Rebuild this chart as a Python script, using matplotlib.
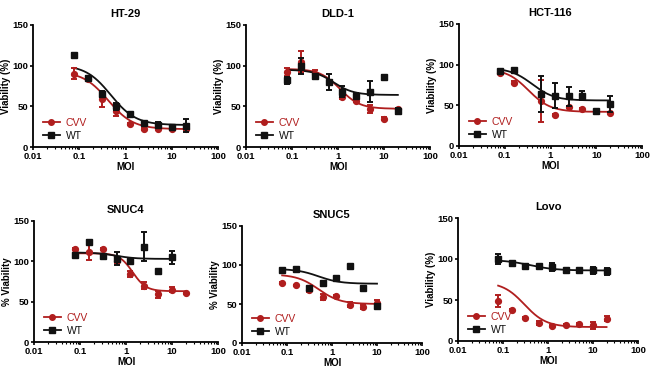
import numpy as np
import matplotlib
matplotlib.use("Agg")
import matplotlib.pyplot as plt
from matplotlib.ticker import LogLocator, NullFormatter, FixedLocator

plt.rcParams['font.family'] = ['Liberation Sans', 'DejaVu Sans']
plt.rcParams['font.weight'] = 'bold'

RED = '#B01E1E'
BLACK = '#111111'

titles = ['HT-29', 'DLD-1', 'HCT-116', 'SNUC4', 'SNUC5', 'Lovo']
ylabels = ['Viability (%)', 'Viability (%)', 'Viability (%)', '% Viability', '% Viability', 'Viability (%)']
xticklabels = ['0.01', '0.1', '1', '10', '100']
yticks = [0, 50, 100, 150]

# HT-29
ht29_cvv_x = [0.078, 0.156, 0.3125, 0.625, 1.25, 2.5, 5, 10, 20]
ht29_cvv_y = [90, 84, 59, 44, 28, 22, 22, 22, 22]
ht29_cvv_e = [7, 3, 10, 6, 1, 1, 1, 1, 1]
ht29_wt_x = [0.078, 0.156, 0.3125, 0.625, 1.25, 2.5, 5, 10, 20]
ht29_wt_y = [113, 85, 65, 50, 40, 30, 27, 24, 26]
ht29_wt_e = [2, 2, 4, 4, 3, 2, 4, 2, 8]
ht29_cvv_fit = [93, 22, 0.42, 1.6]
ht29_wt_fit = [101, 27, 0.48, 1.6]

# DLD-1
dld1_cvv_x = [0.078, 0.156, 0.3125, 1.25, 2.5, 5, 10, 20]
dld1_cvv_y = [92, 105, 90, 62, 57, 47, 35, 47]
dld1_cvv_e = [5, 13, 5, 3, 2, 5, 2, 1]
dld1_wt_x = [0.078, 0.156, 0.3125, 0.625, 1.25, 2.5, 5, 10, 20]
dld1_wt_y = [82, 100, 87, 80, 68, 63, 68, 86, 44]
dld1_wt_e = [4, 10, 3, 10, 7, 3, 13, 3, 4]
dld1_cvv_fit = [96, 47, 1.1, 2.0]
dld1_wt_fit = [95, 64, 0.8, 2.0]

# HCT-116
hct116_cvv_x = [0.078, 0.156, 0.625, 1.25, 2.5, 5, 20]
hct116_cvv_y = [90, 78, 55, 38, 48, 46, 40]
hct116_cvv_e = [1, 2, 26, 1, 1, 1, 1]
hct116_wt_x = [0.078, 0.156, 0.625, 1.25, 2.5, 5, 10, 20]
hct116_wt_y = [92, 93, 64, 62, 61, 62, 43, 52]
hct116_wt_e = [2, 2, 22, 15, 12, 6, 1, 10]
hct116_cvv_fit = [95, 42, 0.33, 1.8]
hct116_wt_fit = [96, 56, 0.4, 1.8]

# SNUC4
snuc4_cvv_x = [0.078, 0.156, 0.3125, 0.625, 1.25, 2.5, 5, 10, 20]
snuc4_cvv_y = [115, 112, 115, 100, 84, 70, 59, 65, 61]
snuc4_cvv_e = [1, 10, 1, 2, 4, 4, 4, 3, 1]
snuc4_wt_x = [0.078, 0.156, 0.3125, 0.625, 1.25, 2.5, 5, 10]
snuc4_wt_y = [108, 124, 107, 103, 100, 118, 88, 105]
snuc4_wt_e = [2, 2, 2, 8, 2, 18, 1, 8]
snuc4_cvv_fit = [110, 63, 1.4, 3.0]
snuc4_wt_fit = [111, 103, 0.6, 2.0]

# SNUC5
snuc5_cvv_x = [0.078, 0.156, 0.3125, 0.625, 1.25, 2.5, 5, 10]
snuc5_cvv_y = [77, 74, 68, 59, 60, 49, 46, 51]
snuc5_cvv_e = [1, 1, 3, 4, 1, 3, 3, 4]
snuc5_wt_x = [0.078, 0.156, 0.3125, 0.625, 1.25, 2.5, 5, 10]
snuc5_wt_y = [93, 95, 70, 77, 83, 99, 71, 48]
snuc5_wt_e = [1, 1, 1, 1, 1, 1, 1, 1]
snuc5_cvv_fit = [88, 50, 0.5, 1.8]
snuc5_wt_fit = [95, 76, 0.5, 1.8]

# Lovo
lovo_cvv_x = [0.078, 0.156, 0.3125, 0.625, 1.25, 2.5, 5, 10, 20]
lovo_cvv_y = [49, 38, 28, 22, 18, 20, 21, 19, 27]
lovo_cvv_e = [7, 1, 1, 3, 1, 1, 1, 4, 3]
lovo_wt_x = [0.078, 0.156, 0.3125, 0.625, 1.25, 2.5, 5, 10, 20]
lovo_wt_y = [100, 95, 91, 91, 90, 86, 86, 86, 85]
lovo_wt_e = [6, 3, 1, 1, 5, 1, 1, 4, 4]
lovo_cvv_fit = [72, 17, 0.3, 1.8]
lovo_wt_fit = [99, 86, 0.4, 1.5]

panels = [
    (ht29_cvv_x, ht29_cvv_y, ht29_cvv_e, ht29_cvv_fit, ht29_wt_x, ht29_wt_y, ht29_wt_e, ht29_wt_fit),
    (dld1_cvv_x, dld1_cvv_y, dld1_cvv_e, dld1_cvv_fit, dld1_wt_x, dld1_wt_y, dld1_wt_e, dld1_wt_fit),
    (hct116_cvv_x, hct116_cvv_y, hct116_cvv_e, hct116_cvv_fit, hct116_wt_x, hct116_wt_y, hct116_wt_e, hct116_wt_fit),
    (snuc4_cvv_x, snuc4_cvv_y, snuc4_cvv_e, snuc4_cvv_fit, snuc4_wt_x, snuc4_wt_y, snuc4_wt_e, snuc4_wt_fit),
    (snuc5_cvv_x, snuc5_cvv_y, snuc5_cvv_e, snuc5_cvv_fit, snuc5_wt_x, snuc5_wt_y, snuc5_wt_e, snuc5_wt_fit),
    (lovo_cvv_x, lovo_cvv_y, lovo_cvv_e, lovo_cvv_fit, lovo_wt_x, lovo_wt_y, lovo_wt_e, lovo_wt_fit),
]

W, H = 650, 369
# pixel boxes: left, right, top, bottom
boxes = [
    (33, 218, 25, 147),
    (246, 430, 25, 147),
    (459, 642, 24, 146),
    (34, 218, 221, 342),
    (242, 422, 226, 343),
    (458, 638, 218, 341),
]

def logistic(x, p):
    top, bottom, ic50, h = p
    return bottom + (top - bottom) / (1 + (x / ic50) ** h)

fig = plt.figure(figsize=(6.5, 3.69), dpi=100)

for i, (box, data) in enumerate(zip(boxes, panels)):
    l, r, t, b = box
    ax = fig.add_axes([l / W, 1 - b / H, (r - l) / W, (b - t) / H])
    cx, cy, ce, cfit, wx, wy, we, wfit = data
    xs = np.logspace(np.log10(cx[0]), np.log10(cx[-1]), 200)
    ax.plot(xs, logistic(xs, cfit), color=RED, lw=1.3, zorder=2)
    xs2 = np.logspace(np.log10(wx[0]), np.log10(wx[-1]), 200)
    ax.plot(xs2, logistic(xs2, wfit), color=BLACK, lw=1.3, zorder=2)
    ax.errorbar(cx, cy, yerr=ce, fmt='o', color=RED, ms=4.2, capsize=2.5,
                elinewidth=1.4, capthick=1.4, zorder=3)
    ax.errorbar(wx, wy, yerr=we, fmt='s', color=BLACK, ms=4.2, capsize=2.5,
                elinewidth=1.4, capthick=1.4, zorder=4)
    ax.set_xscale('log')
    ax.set_xlim(0.01, 100)
    ax.set_ylim(0, 150)
    ax.set_yticks(yticks)
    ax.xaxis.set_major_locator(FixedLocator([0.01, 0.1, 1, 10, 100]))
    ax.set_xticklabels(xticklabels)
    ax.xaxis.set_minor_locator(LogLocator(base=10, subs=np.arange(2, 10)))
    ax.xaxis.set_minor_formatter(NullFormatter())
    for s in ['top', 'right']:
        ax.spines[s].set_visible(False)
    for s in ['left', 'bottom']:
        ax.spines[s].set_linewidth(1.3)
    ax.tick_params(which='major', direction='out', length=2.5, width=1.2,
                   labelsize=6.8, pad=1)
    ax.tick_params(which='minor', direction='out', length=1.5, width=0.8)
    for lab in ax.get_xticklabels() + ax.get_yticklabels():
        lab.set_fontweight('bold')
    ax.set_title(titles[i], fontsize=8, fontweight='bold', pad=6)
    ax.set_xlabel('MOI', fontsize=7, fontweight='bold', labelpad=1)
    ax.set_ylabel(ylabels[i], fontsize=7, fontweight='bold', labelpad=0.5)
    h1, = ax.plot([], [], marker='o', color=RED, lw=1.3, ms=4)
    h2, = ax.plot([], [], marker='s', color=BLACK, lw=1.3, ms=4)
    leg = ax.legend([h1, h2], ['CVV', 'WT'], loc='lower left', frameon=False,
                    fontsize=7.5, handlelength=1.6, handletextpad=0.6,
                    borderaxespad=0.2, labelspacing=0.3,
                    bbox_to_anchor=(0.02, 0.0))
    leg.get_texts()[0].set_color(RED)
    leg.get_texts()[1].set_color(BLACK)
    for tx in leg.get_texts():
        tx.set_fontweight('normal')

fig.savefig('out.png', dpi=100)
